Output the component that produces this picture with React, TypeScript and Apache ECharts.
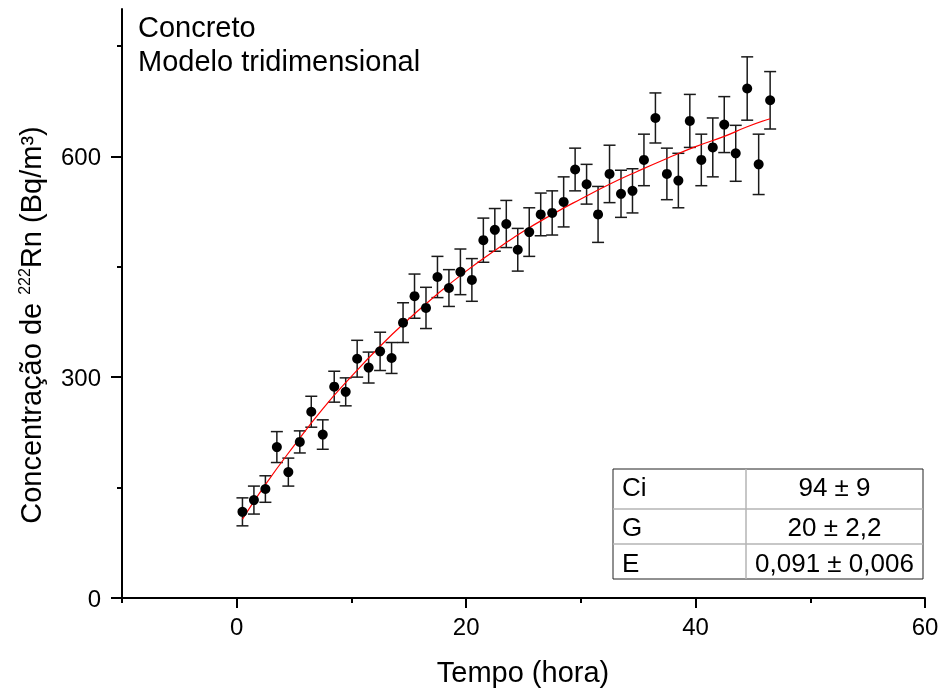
import React, { useEffect, useRef } from 'react';
import * as echarts from 'echarts';

// Measured time (hours)
const times = [0.5, 1.5, 2.5, 3.5, 4.5, 5.5, 6.5, 7.5, 8.5, 9.5, 10.5, 11.5, 12.5, 13.5, 14.5, 15.5, 16.5, 17.5, 18.5, 19.5, 20.5, 21.5, 22.5, 23.5, 24.5, 25.5, 26.5, 27.5, 28.5, 29.5, 30.5, 31.5, 32.5, 33.5, 34.5, 35.5, 36.5, 37.5, 38.5, 39.5, 40.5, 41.5, 42.5, 43.5, 44.5, 45.5, 46.5];
// 222Rn concentration (Bq/m3)
const conc = [117, 133, 148, 205, 171, 212, 253, 222, 287, 280, 325, 313, 335, 326, 374, 410, 394, 436, 421, 443, 432, 486, 500, 508, 473, 497, 521, 523, 538, 582, 562, 521, 576, 549, 553, 595, 652, 576, 567, 648, 595, 612, 643, 604, 692, 589, 676];
// half-width of error bars
const errs = [19, 19, 18, 21, 19, 15, 21, 20, 21, 19, 25, 21, 26, 21, 27, 30, 28, 28, 25, 31, 29, 30, 29, 32, 29, 33, 29, 30, 34, 29, 27, 38, 39, 32, 30, 35, 34, 35, 37, 36, 35, 40, 38, 38, 43, 41, 39];
// fitted model curve
const fitT = [0.5, 2.5, 5, 7.5, 10, 12.5, 15, 17.5, 20, 22.5, 25, 27.5, 30, 32.5, 35, 37.5, 40, 42.5, 44.5, 46.5];
const fitC = [107, 154, 207, 257, 301, 342, 379, 413, 444, 472, 498, 521, 542, 562, 580, 597, 613, 627, 640, 651];

const xMajorTicks = [0, 20, 40, 60];
const xMinorTicks = [-10, 10, 30, 50];
const yMajorTicks = [0, 300, 600];
const yMinorTicks = [150, 450, 750];

const tableLabels = ['Ci', 'G', 'E'];
const tableValues = ['94 ± 9', '20 ± 2,2', '0,091 ± 0,006'];
const noteLines = ['Concreto', 'Modelo tridimensional'];

export default function App() {
  const ref = useRef<HTMLDivElement>(null);
  useEffect(() => {
    if (!ref.current) return;
    const chart = echarts.init(ref.current, null, { renderer: 'svg' });
    const font = '"Liberation Sans", Arial, Helvetica, sans-serif';
    const points = times.map((t, i) => [t, conc[i]]);
    const bars = times.map((t, i) => [t, conc[i] - errs[i], conc[i] + errs[i]]);
    const fit = fitT.map((t, i) => [t, fitC[i]]);
    const lineSt = { color: '#000', width: 2 };

    // table geometry
    const tx = 613, ty = 469, tw = 310, th = 110, colX = 746;
    const rowY = [469, 509, 544, 579];
    const textY = [487, 527, 563];
    const tableEls: any[] = [
      { type: 'rect', shape: { x: tx, y: ty, width: tw, height: th }, style: { fill: '#fff', stroke: '#222', lineWidth: 1 }, z: 10 },
      { type: 'line', shape: { x1: colX, y1: ty, x2: colX, y2: ty + th }, style: { stroke: '#b5b5b5', lineWidth: 1.5 }, z: 11 },
      { type: 'line', shape: { x1: tx, y1: rowY[1], x2: tx + tw, y2: rowY[1] }, style: { stroke: '#b5b5b5', lineWidth: 1.5 }, z: 11 },
      { type: 'line', shape: { x1: tx, y1: rowY[2], x2: tx + tw, y2: rowY[2] }, style: { stroke: '#b5b5b5', lineWidth: 1.5 }, z: 11 },
    ];
    tableLabels.forEach((lab, i) => {
      tableEls.push({ type: 'text', x: 622, y: textY[i], z: 12, style: { text: lab, fontSize: 26, fontFamily: font, fill: '#000', textAlign: 'left', textVerticalAlign: 'middle' } });
      tableEls.push({ type: 'text', x: (colX + tx + tw) / 2, y: textY[i], z: 12, style: { text: tableValues[i], fontSize: 26, fontFamily: font, fill: '#000', textAlign: 'center', textVerticalAlign: 'middle' } });
    });

    const option: any = {
      animation: false,
      grid: { left: 122, right: 19, top: 9, bottom: 95, containLabel: false },
      xAxis: [
        {
          type: 'value', min: -10, max: 60, position: 'bottom',
          axisLine: { show: true, onZero: false, lineStyle: lineSt },
          axisTick: { show: true, length: 10, lineStyle: lineSt, customValues: xMajorTicks },
          axisLabel: { show: true, customValues: xMajorTicks, margin: 16, color: '#000', fontSize: 24, fontFamily: font },
          splitLine: { show: false },
        },
        {
          type: 'value', min: -10, max: 60, position: 'bottom',
          axisLine: { show: false, onZero: false },
          axisTick: { show: true, length: 5, lineStyle: lineSt, customValues: xMinorTicks },
          axisLabel: { show: false },
          splitLine: { show: false },
        },
      ],
      yAxis: [
        {
          type: 'value', min: 0, max: 800, position: 'left',
          axisLine: { show: true, onZero: false, lineStyle: lineSt },
          axisTick: { show: true, length: 11, lineStyle: lineSt, customValues: yMajorTicks },
          axisLabel: { show: true, customValues: yMajorTicks, margin: 21, color: '#000', fontSize: 24, fontFamily: font },
          splitLine: { show: false },
        },
        {
          type: 'value', min: 0, max: 800, position: 'left',
          axisLine: { show: false, onZero: false },
          axisTick: { show: true, length: 5, lineStyle: lineSt, customValues: yMinorTicks },
          axisLabel: { show: false },
          splitLine: { show: false },
        },
      ],
      series: [
        {
          type: 'custom', xAxisIndex: 0, yAxisIndex: 0, z: 1,
          encode: { x: 0, y: [1, 2] },
          data: bars,
          renderItem: (params: any, api: any) => {
            const x = api.value(0);
            const pLo = api.coord([x, api.value(1)]);
            const pHi = api.coord([x, api.value(2)]);
            const hw = 6;
            const style = { stroke: '#1a1a1a', lineWidth: 1.5 };
            return {
              type: 'group',
              children: [
                { type: 'line', shape: { x1: pLo[0], y1: pLo[1], x2: pHi[0], y2: pHi[1] }, style },
                { type: 'line', shape: { x1: pHi[0] - hw, y1: pHi[1], x2: pHi[0] + hw, y2: pHi[1] }, style },
                { type: 'line', shape: { x1: pLo[0] - hw, y1: pLo[1], x2: pLo[0] + hw, y2: pLo[1] }, style },
              ],
            };
          },
        },
        {
          type: 'line', xAxisIndex: 0, yAxisIndex: 0, z: 2,
          data: fit, smooth: true, showSymbol: false, symbol: 'none',
          lineStyle: { color: '#ff0000', width: 1.2 },
        },
        {
          type: 'scatter', xAxisIndex: 0, yAxisIndex: 0, z: 3,
          data: points, symbol: 'circle', symbolSize: 10,
          itemStyle: { color: '#000', opacity: 1 },
        },
      ],
      graphic: [
        { type: 'text', x: 138, y: 27, style: { text: noteLines[0], fontSize: 29, fontFamily: font, fill: '#000', textAlign: 'left', textVerticalAlign: 'middle' } },
        { type: 'text', x: 138, y: 61, style: { text: noteLines[1], fontSize: 29, fontFamily: font, fill: '#000', textAlign: 'left', textVerticalAlign: 'middle' } },
        { type: 'text', x: 523, y: 672, style: { text: 'Tempo (hora)', fontSize: 29, fontFamily: font, fill: '#000', textAlign: 'center', textVerticalAlign: 'middle' } },
        {
          type: 'text', x: 31, y: 325, rotation: Math.PI / 2,
          style: {
            text: '{a|Concentração de }{s|222}{a|Rn (Bq/m³)}',
            textAlign: 'center', textVerticalAlign: 'middle',
            rich: {
              a: { fontSize: 29, fontFamily: font, fill: '#000', color: '#000' },
              s: { fontSize: 16, fontFamily: font, fill: '#000', color: '#000', verticalAlign: 'top' },
            },
          },
        },
        ...tableEls,
      ],
    };
    chart.setOption(option);
    return () => chart.dispose();
  }, []);
  return <div ref={ref} style={{ position: 'fixed', left: 0, top: 0, width: 944, height: 693 }} />;
}
